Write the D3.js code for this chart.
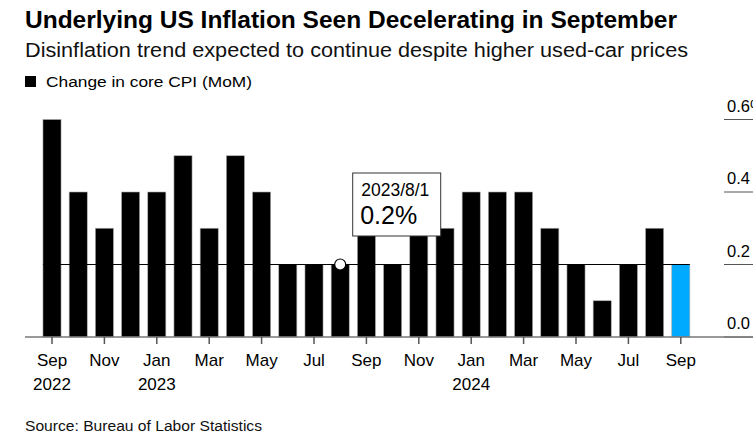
<!DOCTYPE html>
<html>
<head>
<meta charset="utf-8">
<style>
    body { margin: 0; background: #fff; }
    svg { font-family: 'Liberation Sans Narrow', 'Arial Narrow', 'Liberation Sans', Arial, sans-serif; }
    .tick-label { font-family: 'Liberation Sans', Arial, sans-serif; }
</style>
</head>
<body>
<svg width="753" height="445"></svg>
<script src="https://d3js.org/d3.v7.min.js"></script>
<script>
    // monthly change in core CPI, Sep 2022 - Sep 2024
    let months = ["2022-09", "2022-10", "2022-11", "2022-12", "2023-01", "2023-02", "2023-03", "2023-04",
        "2023-05", "2023-06", "2023-07", "2023-08", "2023-09", "2023-10", "2023-11", "2023-12",
        "2024-01", "2024-02", "2024-03", "2024-04", "2024-05", "2024-06", "2024-07", "2024-08", "2024-09"];
    let coreCpi = [0.6, 0.4, 0.3, 0.4, 0.4, 0.5, 0.3, 0.5, 0.4, 0.2, 0.2, 0.2, 0.3, 0.2, 0.3, 0.3,
        0.4, 0.4, 0.4, 0.3, 0.2, 0.1, 0.2, 0.3, 0.2];
    let yTicks = [0, 0.2, 0.4, 0.6];
    let monthNames = ["Jan", "Feb", "Mar", "Apr", "May", "Jun", "Jul", "Aug", "Sep", "Oct", "Nov", "Dec"];
    let hoverMonth = "2023-08";

    let svg = d3.select("svg");

    // headings
    svg.append("text").attr("x", 25).attr("y", 28)
        .attr("textLength", 652).attr("lengthAdjust", "spacingAndGlyphs")
        .style("font-size", "23px").style("font-weight", "bold")
        .text("Underlying US Inflation Seen Decelerating in September");
    svg.append("text").attr("x", 25).attr("y", 57)
        .attr("textLength", 663).attr("lengthAdjust", "spacingAndGlyphs")
        .style("font-size", "19.5px").style("fill", "#111")
        .text("Disinflation trend expected to continue despite higher used-car prices");
    svg.append("rect").attr("x", 25).attr("y", 76).attr("width", 11).attr("height", 11).style("fill", "#000");
    svg.append("text").attr("x", 46).attr("y", 87)
        .attr("textLength", 206).attr("lengthAdjust", "spacingAndGlyphs")
        .style("font-size", "15.5px")
        .text("Change in core CPI (MoM)");
    svg.append("text").attr("x", 25).attr("y", 431)
        .attr("textLength", 237).attr("lengthAdjust", "spacingAndGlyphs")
        .style("font-size", "15.5px").style("fill", "#111")
        .text("Source: Bureau of Labor Statistics");

    let x = d3.scaleBand()
        .domain(months)
        .range([38.9, 38.9 + 26.2 * months.length])
        .paddingInner(0.31)
        .paddingOuter(0.155);

    let y = d3.scaleLinear()
        .domain([0, 0.6])
        .range([337, 119.5]);

    // right-side value labels with short rules
    let yAxis = svg.append("g");
    yAxis.selectAll("line")
        .data(yTicks)
        .join("line")
        .attr("x1", 724).attr("x2", 753)
        .attr("y1", d => y(d)).attr("y2", d => y(d))
        .style("stroke", "#555").style("stroke-width", 1);
    yAxis.selectAll("text")
        .data(yTicks)
        .join("text")
        .attr("class", "tick-label")
        .attr("x", 727)
        .attr("y", d => y(d) - 8)
        .style("font-size", "16.5px")
        .text(d => d === 0.6 ? "0.6%" : d.toFixed(1));

    // bars
    svg.append("g")
        .selectAll("rect")
        .data(months)
        .join("rect")
        .attr("x", d => x(d))
        .attr("width", x.bandwidth())
        .attr("y", (d, i) => y(coreCpi[i]))
        .attr("height", (d, i) => y(0) - y(coreCpi[i]))
        .style("fill", (d, i) => i === months.length - 1 ? "#00aaff" : "#000")
        .style("stroke", "#aaa")
        .style("stroke-width", 0.6);

    // baseline and ticks
    svg.append("line")
        .attr("x1", 25).attr("x2", 753)
        .attr("y1", y(0)).attr("y2", y(0))
        .style("stroke", "#777").style("stroke-width", 1.5);

    let labelled = months.filter((d, i) => i % 2 === 0);
    let xAxis = svg.append("g");
    xAxis.selectAll("line")
        .data(labelled)
        .join("line")
        .attr("x1", d => x(d) + x.bandwidth() / 2)
        .attr("x2", d => x(d) + x.bandwidth() / 2)
        .attr("y1", y(0)).attr("y2", y(0) + 7)
        .style("stroke", "#555").style("stroke-width", 1.5);
    xAxis.selectAll(".mon")
        .data(labelled)
        .join("text")
        .attr("class", "mon tick-label")
        .attr("x", d => x(d) + x.bandwidth() / 2)
        .attr("y", 366)
        .attr("text-anchor", "middle")
        .style("font-size", "17px")
        .text(d => monthNames[+d.slice(5) - 1]);
    xAxis.selectAll(".yr")
        .data(labelled.filter((d, i) => i === 0 || d.slice(5) === "01"))
        .join("text")
        .attr("class", "yr tick-label")
        .attr("x", d => x(d) + x.bandwidth() / 2)
        .attr("y", 390)
        .attr("text-anchor", "middle")
        .style("font-size", "17px")
        .text(d => d.slice(0, 4));

    // hover state at Aug 2023
    let hi = months.indexOf(hoverMonth);
    let hv = coreCpi[hi];
    let hx = x(hoverMonth) + x.bandwidth() / 2;
    svg.append("line")
        .attr("x1", x(months[0])).attr("x2", x(months[months.length - 1]) + x.bandwidth())
        .attr("y1", y(hv)).attr("y2", y(hv))
        .style("stroke", "#000").style("stroke-width", 1.2);
    svg.append("circle")
        .attr("cx", hx).attr("cy", y(hv)).attr("r", 5.5)
        .style("fill", "#fff").style("stroke", "#000").style("stroke-width", 1.2);

    let tip = svg.append("g").attr("transform", `translate(${hx + 12},${y(hv) - 92})`);
    tip.append("rect")
        .attr("x", 0.5).attr("y", 0.5).attr("width", 88).attr("height", 63)
        .style("fill", "#fff").style("stroke", "#333").style("stroke-width", 1);
    tip.append("text").attr("class", "tick-label")
        .attr("x", 9).attr("y", 23)
        .style("font-size", "17.5px")
        .text(hoverMonth.replace("-", "/").replace("/0", "/") + "/1");
    tip.append("text").attr("class", "tick-label")
        .attr("x", 8).attr("y", 51)
        .style("font-size", "25px")
        .text(hv.toFixed(1) + "%");
</script>
</body>
</html>
